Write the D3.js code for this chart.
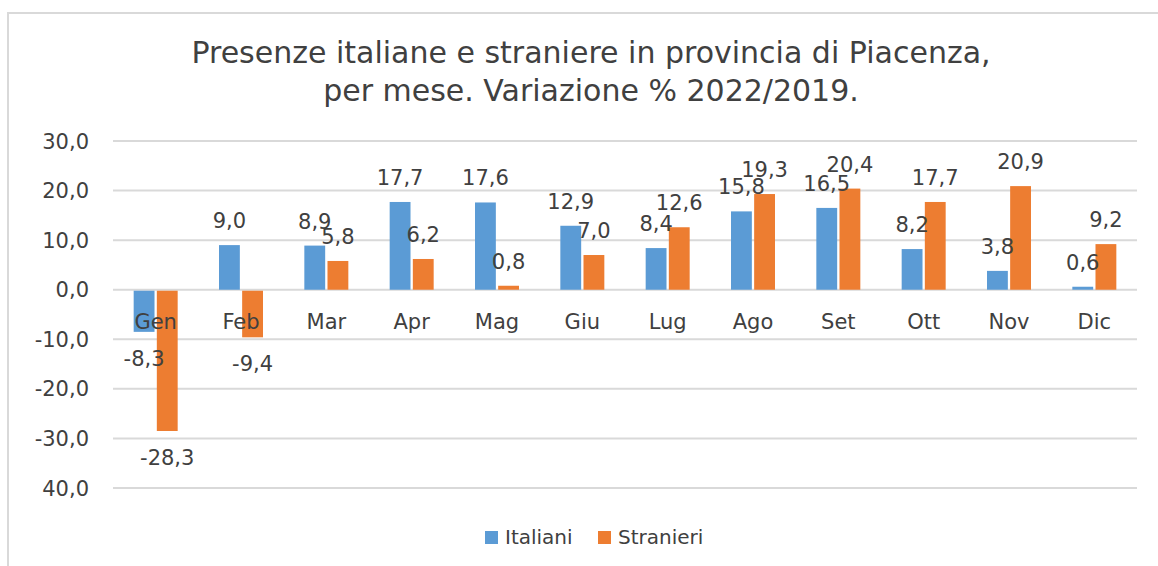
<!DOCTYPE html>
<html lang="it">
<head>
<meta charset="UTF-8">
<title>Presenze italiane e straniere - Piacenza</title>
<script src="https://cdn.jsdelivr.net/npm/d3@7/dist/d3.min.js"></script>
<style>
  body { margin: 0; background: #fff; }
  svg text { font-family: "DejaVu Sans", sans-serif; fill: #404040; }
</style>
</head>
<body>
<div id="chart"></div>
<script>
var months = ["Gen", "Feb", "Mar", "Apr", "Mag", "Giu", "Lug", "Ago", "Set", "Ott", "Nov", "Dic"];
var italiani = [-8.3, 9.0, 8.9, 17.7, 17.6, 12.9, 8.4, 15.8, 16.5, 8.2, 3.8, 0.6];
var stranieri = [-28.3, -9.4, 5.8, 6.2, 0.8, 7.0, 12.6, 19.3, 20.4, 17.7, 20.9, 9.2];
var seriesNames = ["Italiani", "Stranieri"];
var seriesColors = ["#5B9BD5", "#ED7D31"];
var yTicks = [30, 20, 10, 0, -10, -20, -30, -40];
var yTickLabels = ["30,0", "20,0", "10,0", "0,0", "-10,0", "-20,0", "-30,0", "40,0"];
var titleLines = ["Presenze italiane e straniere in provincia di Piacenza,", "per mese. Variazione % 2022/2019."];

var width = 1158, height = 566;
var gridColor = "#d9d9d9";

var svg = d3.select("#chart").append("svg")
    .attr("width", width)
    .attr("height", height);

// chart frame (right and bottom edges fall outside the picture)
svg.append("rect")
    .attr("x", 8).attr("y", 13)
    .attr("width", 1200).attr("height", 600)
    .attr("fill", "none")
    .attr("stroke", gridColor)
    .attr("stroke-width", 2);

// title
svg.selectAll(".title").data(titleLines).enter().append("text")
    .attr("class", "title")
    .attr("x", 591)
    .attr("y", function(d, i) { return 63 + i * 38; })
    .attr("text-anchor", "middle")
    .style("font-size", "30px")
    .text(function(d) { return d; });

var x = d3.scaleBand()
    .domain(months)
    .range([113, 1137]);

var y = d3.scaleLinear()
    .domain([-40, 30])
    .range([488, 141]);

var groupW = 44;
var x1 = d3.scaleBand()
    .domain(seriesNames)
    .range([(x.bandwidth() - groupW) / 2, (x.bandwidth() + groupW) / 2])
    .paddingInner(0.1);

// gridlines
svg.append("g").selectAll("line").data(yTicks).enter().append("line")
    .attr("x1", 113).attr("x2", 1137)
    .attr("y1", function(d) { return y(d); })
    .attr("y2", function(d) { return y(d); })
    .attr("stroke", gridColor)
    .attr("stroke-width", 2);

// y tick labels
svg.append("g").selectAll("text").data(yTicks).enter().append("text")
    .attr("x", 89)
    .attr("y", function(d) { return y(d); })
    .attr("dy", "0.36em")
    .attr("text-anchor", "end")
    .style("font-size", "21px")
    .text(function(d, i) { return yTickLabels[i]; });

var rows = months.map(function(m, i) {
    return { month: m, values: [italiani[i], stranieri[i]] };
});

var groups = svg.append("g").selectAll("g").data(rows).enter().append("g")
    .attr("transform", function(d) { return "translate(" + x(d.month) + ",0)"; });

groups.selectAll("rect").data(function(d) {
        return d.values.map(function(v, j) { return { name: seriesNames[j], value: v, color: seriesColors[j] }; });
    }).enter().append("rect")
    .attr("x", function(d) { return x1(d.name); })
    .attr("y", function(d) { return d.value >= 0 ? y(d.value) : y(0) + 1; })
    .attr("width", x1.bandwidth())
    .attr("height", function(d) { return Math.abs(y(d.value) - y(0)); })
    .attr("fill", function(d) { return d.color; });

// month labels just below the zero line
groups.append("text")
    .attr("x", x.bandwidth() / 2)
    .attr("y", y(0) + 39)
    .attr("text-anchor", "middle")
    .style("font-size", "21px")
    .text(function(d) { return d.month; });

// data labels
var fmt = function(v) { return v.toFixed(1).replace(".", ","); };
groups.selectAll(".lbl").data(function(d) {
        return d.values.map(function(v, j) { return { name: seriesNames[j], value: v }; });
    }).enter().append("text")
    .attr("class", "lbl")
    .attr("x", function(d) { return x1(d.name) + x1.bandwidth() / 2; })
    .attr("y", function(d) { return d.value >= 0 ? y(d.value) - 17 : y(d.value) + 35; })
    .attr("text-anchor", "middle")
    .style("font-size", "21px")
    .text(function(d) { return fmt(d.value); });

// legend
var legend = svg.append("g");
var legendX = [485, 598];
seriesNames.forEach(function(name, i) {
    legend.append("rect")
        .attr("x", legendX[i]).attr("y", 531)
        .attr("width", 13).attr("height", 13)
        .attr("fill", seriesColors[i]);
    legend.append("text")
        .attr("x", legendX[i] + 20).attr("y", 544)
        .style("font-size", "20px")
        .text(name);
});
</script>
</body>
</html>
